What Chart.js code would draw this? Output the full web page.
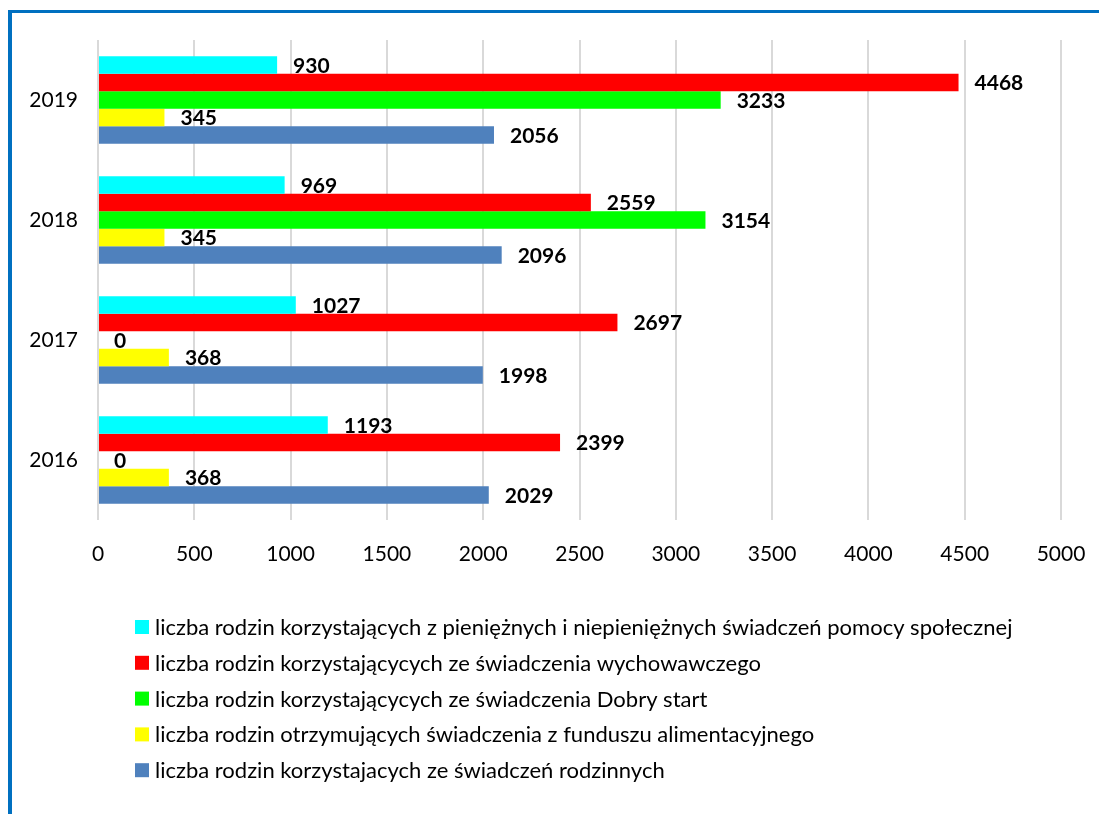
<!DOCTYPE html>
<html>
<head>
<meta charset="utf-8">
<script src="https://cdn.jsdelivr.net/npm/chart.js@4.4.1/dist/chart.umd.min.js"></script>
<style>
  html, body { margin: 0; padding: 0; background: #fff; }
  #frame { position: absolute; left: 8px; top: 10px; width: 1091px; height: 804px;
           border-top: 3px solid #0070C0; border-left: 4px solid #0070C0; box-sizing: border-box; }
  #c { position: absolute; left: 0; top: 0; }
</style>
</head>
<body>
<div id="frame"></div>
<canvas id="c" width="1099" height="814"></canvas>
<script>
// Categories (top to bottom)
const years = ['2019', '2018', '2017', '2016'];

// Series values, in the same order as years
const pomocSpoleczna = [930, 969, 1027, 1193];
const wychowawcze = [4468, 2559, 2697, 2399];
const dobryStart = [3233, 3154, 0, 0];
const alimentacyjny = [345, 345, 368, 368];
const rodzinne = [2056, 2096, 1998, 2029];

const seriesNames = [
  'liczba rodzin korzystających z pieniężnych i niepieniężnych świadczeń pomocy społecznej',
  'liczba rodzin korzystającycych ze świadczenia wychowawczego',
  'liczba rodzin korzystającycych ze świadczenia Dobry start',
  'liczba rodzin otrzymujących świadczenia z funduszu alimentacyjnego',
  'liczba rodzin korzystajacych ze świadczeń rodzinnych'
];
const seriesColors = ['#00FFFF', '#FF0000', '#00FF00', '#FFFF00', '#4F81BD'];
const seriesValues = [pomocSpoleczna, wychowawcze, dobryStart, alimentacyjny, rodzinne];

// x-axis tick values
const xTicks = [0, 500, 1000, 1500, 2000, 2500, 3000, 3500, 4000, 4500, 5000];

const FONT = 'Lato, "Open Sans", sans-serif';

const valueLabels = {
  id: 'valueLabels',
  afterDatasetsDraw(chart) {
    const ctx = chart.ctx;
    ctx.save();
    ctx.font = 'bold 21px ' + FONT;
    ctx.fillStyle = '#000';
    ctx.textAlign = 'left';
    ctx.textBaseline = 'middle';
    chart.data.datasets.forEach((ds, di) => {
      const meta = chart.getDatasetMeta(di);
      meta.data.forEach((el, i) => {
        ctx.fillText(String(ds.data[i]), el.x + 16, el.y + 1);
      });
    });
    ctx.restore();
  }
};

const customLegend = {
  id: 'customLegend',
  afterDraw(chart) {
    const ctx = chart.ctx;
    ctx.save();
    ctx.font = '22px ' + FONT;
    ctx.textAlign = 'left';
    ctx.textBaseline = 'middle';
    const x0 = 135, y0 = 627, step = 35.8;
    chart.data.datasets.forEach((ds, i) => {
      const y = y0 + i * step;
      ctx.fillStyle = ds.backgroundColor;
      ctx.fillRect(x0, y - 7, 14, 14);
      ctx.fillStyle = '#000';
      ctx.fillText(ds.label, x0 + 20, y + 1);
    });
    ctx.restore();
  }
};

new Chart(document.getElementById('c'), {
  type: 'bar',
  data: {
    labels: years,
    datasets: seriesNames.map((name, i) => ({
      label: name,
      data: seriesValues[i],
      backgroundColor: seriesColors[i],
      borderWidth: 0,
      categoryPercentage: 0.73,
      barPercentage: 1.0
    }))
  },
  options: {
    indexAxis: 'y',
    responsive: false,
    animation: false,
    layout: { padding: { left: 0, right: 38, top: 40, bottom: 234 } },
    plugins: {
      legend: { display: false },
      tooltip: { enabled: false }
    },
    scales: {
      x: {
        min: 0, max: 5000,
        afterBuildTicks(scale) { scale.ticks = xTicks.map(v => ({ value: v })); },
        afterFit(scale) { scale.height = 60; scale.paddingRight = 0; },
        grid: { color: '#d9d9d9', lineWidth: 2, drawTicks: false },
        border: { display: false },
        ticks: { color: '#000', font: { family: FONT, size: 21 }, padding: 22, maxRotation: 0,
                 callback: (v) => String(v) }
      },
      y: {
        afterFit(scale) { scale.width = 98; },
        grid: { display: false },
        border: { display: false },
        ticks: { color: '#000', font: { family: FONT, size: 21 }, padding: 12 }
      }
    }
  },
  plugins: [valueLabels, customLegend]
});
</script>
</body>
</html>
